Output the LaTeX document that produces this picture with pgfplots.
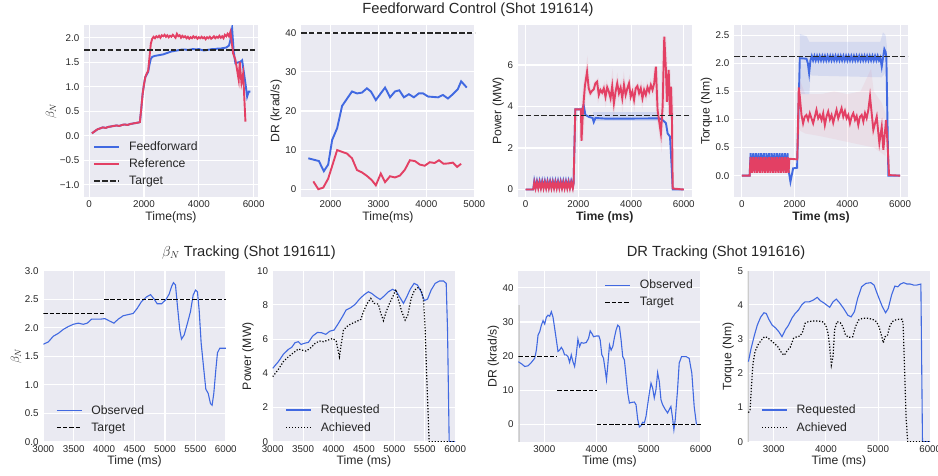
\documentclass[border=0pt]{standalone}
\usepackage{fontspec}
\setmainfont{Liberation Sans}
\usepackage{pgfplots}
\pgfplotsset{compat=1.18}
\definecolor{bgc}{HTML}{EAEAF2}
\definecolor{cblue}{HTML}{4169E1}
\definecolor{cred}{HTML}{E34064}
\definecolor{ctxt}{HTML}{262626}

\pgfplotsset{
  sb/.style={
    scale only axis, anchor=south west,
    axis background/.style={fill=bgc},
    axis line style={draw=none},
    grid=major, grid style={white, line width=1.1pt},
    major tick length=0pt,
    scaled ticks=false,
    ticklabel style={font=\fontsize{9.8}{11}\selectfont, text=ctxt, inner sep=0pt},
    xticklabel style={yshift=-3.5pt},
    yticklabel style={xshift=-4.5pt},
    label style={font=\fontsize{12.2}{14}\selectfont, text=ctxt},
    legend image code/.code={\draw[##1] (0pt,0pt) -- (25pt,0pt);},
    legend style={draw=none, fill=none, font=\fontsize{12.2}{14}\selectfont,
      text=ctxt, row sep=5pt, column sep=8pt, nodes={inner sep=1pt}},
    legend cell align=left,
    unbounded coords=jump,
  },
  top/.style={sb, width=174pt, height=172pt},
  bot/.style={sb, width=182.5pt, height=171pt},
  thk/.style={line width=1.9pt},
  thn/.style={line width=1.1pt},
  tdash/.style={black!85, line width=1.5pt, dash pattern=on 5.5pt off 2.4pt},
  bdash/.style={black, line width=1.2pt, dash pattern=on 4.4pt off 1.9pt},
  bdot/.style={black, line width=1.2pt, dash pattern=on 1.2pt off 1.8pt},
}

\begin{document}
\begin{tikzpicture}
\path[use as bounding box] (0,0) rectangle (938pt,-475pt);

\node[font=\fontsize{14.7}{16}\selectfont, text=ctxt] at (478pt,-10pt) {Feedforward Control (Shot 191614)};
\node[font=\fontsize{14.7}{16}\selectfont, text=ctxt] at (249pt,-253pt) {$\beta_N$ Tracking (Shot 191611)};
\node[font=\fontsize{14.7}{16}\selectfont, text=ctxt] at (716pt,-253pt) {DR Tracking (Shot 191616)};

% ---------- panel 1: beta_N ----------
\begin{axis}[top, at={(84pt,-197pt)},
  xmin=-188, xmax=6158, ymin=-1.25, ymax=2.26,
  xtick={0,2000,4000,6000}, xticklabels={0,2000,4000,6000},
  ytick={-1,-0.5,0,0.5,1,1.5,2}, yticklabels={−1.0,−0.5,0.0,0.5,1.0,1.5,2.0},
  xlabel={Time(ms)}, ylabel={$\beta_N$},
  legend style={at={(0.035,0.045)}, anchor=south west}]
\addplot[cblue, thk] coordinates {
(100,0.05)(200,0.09)(300,0.13)(400,0.15)(500,0.17)(600,0.16)(700,0.18)(800,0.19)
(900,0.2)(1000,0.21)(1100,0.2)(1200,0.22)(1300,0.23)(1400,0.22)(1500,0.24)(1600,0.25)
(1700,0.26)(1800,0.27)(1850,0.28)(1900,0.55)(1950,0.85)(2000,1.05)(2050,1.2)(2100,1.25)
(2150,1.3)(2200,1.45)(2250,1.57)(2300,1.61)(2400,1.63)(2500,1.64)(2600,1.65)(2700,1.66)
(2800,1.68)(2900,1.7)(3000,1.72)(3100,1.73)(3200,1.74)(3300,1.75)(3400,1.76)(3500,1.76)
(3600,1.75)(3700,1.76)(3800,1.77)(3900,1.76)(4000,1.77)(4100,1.75)(4200,1.74)(4300,1.75)
(4400,1.76)(4500,1.77)(4600,1.77)(4700,1.78)(4800,1.78)(4900,1.79)(5000,1.8)(5100,1.84)
(5150,1.95)(5214,2.19)(5272,1.71)(5334,1.48)(5517,1.51)(5579,1.54)(5700,1.07)(5762,0.80)
(5820,0.90)(5882,0.90)};
\addlegendentry{Feedforward}
\addplot[cred, thk] coordinates {
(100,0.05)(200,0.09)(300,0.13)(400,0.15)(500,0.17)(600,0.16)(700,0.18)(800,0.19)
(900,0.2)(1000,0.21)(1100,0.2)(1200,0.22)(1300,0.23)(1400,0.22)(1500,0.24)(1600,0.25)
(1700,0.26)(1800,0.27)(1850,0.28)(1900,0.55)(1950,0.85)(2000,1.05)(2050,1.2)(2100,1.27)
(2150,1.32)(2200,1.6)(2250,1.88)(2300,1.98)(2350,2.02)(2400,1.99)(2450,2.03)(2500,2.01)
(2550,2.04)(2600,2.0)(2650,2.05)(2700,2.03)(2750,2.06)(2800,2.02)(2850,2.05)(2900,2.01)
(2950,2.04)(3000,2.02)(3050,2.06)(3100,2.03)(3150,2.0)(3200,2.08)(3250,2.03)(3300,2.05)
(3350,2.0)(3400,2.04)(3450,2.01)(3500,2.03)(3550,1.99)(3600,2.02)(3650,1.98)(3700,2.01)
(3750,1.99)(3800,2.03)(3850,2.0)(3900,2.02)(3950,1.98)(4000,2.01)(4050,1.99)(4100,2.02)
(4150,1.99)(4200,2.01)(4250,1.97)(4300,2.01)(4350,1.99)(4400,2.02)(4450,1.98)(4500,2.0)
(4550,2.03)(4600,1.99)(4650,2.02)(4700,2.0)(4750,2.04)(4800,2.0)(4850,2.03)(4900,1.99)
(4950,2.06)(5000,2.03)(5050,2.08)(5100,2.03)(5152,2.12)(5250,1.68)(5334,1.55)(5396,1.34)
(5455,1.14)(5492,1.51)(5554,1.08)(5616,1.27)(5700,0.29)};
\addlegendentry{Reference}
\addplot[tdash] coordinates {(-188,1.75)(6158,1.75)};
\addlegendentry{Target}
\end{axis}

% ---------- panel 2: DR ----------
\begin{axis}[top, at={(301pt,-197pt)},
  xmin=1385, xmax=5015, ymin=-2, ymax=42,
  xtick={2000,3000,4000,5000}, xticklabels={2000,3000,4000,5000},
  ytick={0,10,20,30,40}, yticklabels={0,10,20,30,40},
  xlabel={Time(ms)}, ylabel={DR (krad/s)}]
\addplot[cblue, thk] coordinates {
(1538,7.9)(1758,7.2)(1861,4.6)(1952,6.3)(2035,12.6)(2139,15.6)(2242,21.3)(2449,25.0)
(2553,24.5)(2656,24.7)(2760,25.8)(2843,25.0)(2946,22.8)(3139,26.0)(3242,23.5)(3346,25.0)
(3435,25.3)(3532,23.5)(3636,24.3)(3739,23.5)(3843,24.5)(3932,24.5)(4036,23.7)(4243,23.5)
(4346,24.1)(4450,23.2)(4553,24.3)(4657,25.6)(4726,27.6)(4843,26.0)};
\addplot[cred, thk] coordinates {
(1642,2.0)(1746,0)(1849,0.4)(1952,2.7)(2139,10.0)(2346,9.1)(2449,7.9)(2553,4.9)
(2656,4.3)(2760,3.4)(2863,2.3)(2946,1.0)(3050,4.0)(3139,1.8)(3242,3.3)(3346,3.0)
(3450,3.5)(3553,5.0)(3656,7.4)(3760,7.2)(3863,6.3)(3966,6.0)(4070,6.9)(4173,6.7)
(4263,7.4)(4360,6.5)(4463,6.6)(4553,6.8)(4643,5.7)(4726,6.5)};
\addplot[tdash] coordinates {(1385,40)(5015,40)};
\end{axis}

% ---------- panel 3: Power ----------
\begin{axis}[top, at={(517.7pt,-197pt)},
  xmin=-300, xmax=6300, ymin=-0.36, ymax=7.93,
  xtick={0,2000,4000,6000}, xticklabels={0,2000,4000,6000},
  ytick={0,2,4,6}, yticklabels={0,2,4,6},
  xlabel={\bfseries Time (ms)}, ylabel={Power (MW)}]
\addplot[fill=cblue, fill opacity=0.15, draw=none] coordinates {
(2550,3.3)(5050,3.3)(5050,3.75)(2550,3.75)} -- cycle;
\addplot[cblue, thk] coordinates {
(0,0)(290,0)(330,0.42)(380,0.12)(430,0.42)(480,0.12)(530,0.42)(580,0.12)(630,0.42)
(680,0.12)(730,0.42)(780,0.12)(830,0.42)(880,0.12)(930,0.42)(980,0.12)(1030,0.42)
(1080,0.12)(1130,0.42)(1180,0.12)(1230,0.42)(1280,0.12)(1330,0.42)(1380,0.12)(1430,0.42)
(1480,0.12)(1530,0.42)(1580,0.12)(1630,0.42)(1680,0.12)(1730,0.42)(1790,0.12)(1820,0.3)
(1885,3.86)(2140,3.86)(2203,4.07)(2267,3.6)(2400,3.5)(2540,3.45)(2585,3.25)(2650,3.45)
(3000,3.42)(4000,3.42)(5068,3.43)(5197,3.35)(5323,3.2)(5388,2.7)(5477,2.55)(5540,1.09)
(5580,0)(6000,0)};
\addplot[cred, line width=4pt, opacity=0.08] coordinates {
(2120,2.35)(2180,3.9)(2250,5.0)(2331,5.68)(2393,4.88)(2457,4.64)(2521,4.76)(2585,4.83)
(2648,5.12)(2712,5.20)(2776,4.56)(2839,4.80)(2903,4.67)(2967,4.88)(3031,4.47)(3094,4.93)
(3158,4.72)(3222,4.40)(3285,4.99)(3349,4.15)(3413,4.72)(3476,5.12)(3540,4.64)(3604,4.91)
(3667,4.40)(3731,5.04)(3795,4.56)(3859,4.88)(3922,5.12)(3986,4.47)(4050,4.72)(4113,4.32)
(4177,4.88)(4241,4.99)(4304,4.64)(4368,4.88)(4432,4.40)(4495,4.80)(4559,4.56)(4623,4.93)
(4686,4.72)(4750,5.04)(4814,4.80)(4877,5.12)(4941,5.92)(5006,3.83)(5132,2.7)(5197,3.99)
(5260,7.37)(5323,5.76)(5362,4.23)(5427,5.76)(5477,3.59)(5515,4.96)(5553,3.35)};
\addplot[cred, thk] coordinates {
(0,0)(290,0)(330,0.35)(380,0.05)(430,0.35)(480,0.05)(530,0.35)(580,0.05)(630,0.35)
(680,0.05)(730,0.35)(780,0.05)(830,0.35)(880,0.05)(930,0.35)(980,0.05)(1030,0.35)
(1080,0.05)(1130,0.35)(1180,0.05)(1230,0.35)(1280,0.05)(1330,0.35)(1380,0.05)(1430,0.35)
(1480,0.05)(1530,0.35)(1580,0.05)(1630,0.35)(1680,0.05)(1730,0.35)(1790,0.05)(1820,0.3)
(1885,3.86)(2100,3.86)(2120,2.35)(2180,3.9)(2250,5.0)(2331,5.68)(2393,4.88)(2457,4.64)
(2521,4.76)(2585,4.83)(2648,5.12)(2712,5.20)(2776,4.56)(2839,4.80)(2903,4.67)(2967,4.88)
(3031,4.47)(3094,4.93)(3158,4.72)(3222,4.40)(3285,4.99)(3349,4.15)(3413,4.72)(3476,5.12)
(3540,4.64)(3604,4.91)(3667,4.40)(3731,5.04)(3795,4.56)(3859,4.88)(3922,5.12)(3986,4.47)
(4050,4.72)(4113,4.32)(4177,4.88)(4241,4.99)(4304,4.64)(4368,4.88)(4432,4.40)(4495,4.80)
(4559,4.56)(4623,4.93)(4686,4.72)(4750,5.04)(4814,4.80)(4877,5.12)(4941,5.92)(5006,3.83)
(5132,2.7)(5197,3.99)(5260,7.37)(5323,5.76)(5362,4.23)(5427,5.76)(5477,3.59)(5515,4.96)
(5553,3.35)(5580,0.05)(6000,0)};
\addplot[tdash] coordinates {(-300,3.57)(6300,3.57)};
\end{axis}

% ---------- panel 4: Torque ----------
\begin{axis}[top, at={(734pt,-197pt)},
  xmin=-300, xmax=6300, ymin=-0.38, ymax=2.68,
  xtick={0,2000,4000,6000}, xticklabels={0,2000,4000,6000},
  ytick={0,0.5,1,1.5,2,2.5}, yticklabels={0.0,0.5,1.0,1.5,2.0,2.5},
  xlabel={\bfseries Time (ms)}, ylabel={Torque (Nm)}]
\addplot[fill=cblue, fill opacity=0.12, draw=none] coordinates {
(2180,1.6)(2200,2.52)(2450,2.48)(2560,2.38)(5250,2.38)(5350,2.55)(5450,2.5)(5500,2.3)
(5500,1.9)(5400,1.8)(5300,1.75)(2650,1.78)(2600,1.8)(2560,1.45)(2250,1.45)} -- cycle;
\addplot[fill=cred, fill opacity=0.07, draw=none] coordinates {
(2150,1.0)(2200,1.7)(2400,1.45)(3000,1.45)(3500,1.5)(4000,1.45)(4500,1.5)(4900,1.9)
(5000,1.5)(5300,1.3)(5450,1.1)(5450,0.35)(5300,0.4)(5000,0.5)(4500,0.55)(4000,0.6)
(3500,0.65)(3000,0.7)(2400,0.75)(2200,0.8)(2150,0.5)} -- cycle;
\addplot[cblue, thk] coordinates {
(0,0)(293,0)(330,0.40)(380,0.08)(430,0.40)(480,0.08)(530,0.40)(580,0.08)(630,0.40)
(680,0.08)(730,0.40)(780,0.08)(830,0.40)(880,0.08)(930,0.40)(980,0.08)(1030,0.40)
(1080,0.08)(1130,0.40)(1180,0.08)(1230,0.40)(1280,0.08)(1330,0.40)(1380,0.08)(1430,0.40)
(1480,0.08)(1530,0.40)(1580,0.08)(1630,0.40)(1680,0.08)(1730,0.40)(1770,0.10)(1841,-0.11)
(1942,0.13)(2093,0.14)(2196,2.09)(2450,2.08)(2500,2.0)(2550,1.82)(2600,2.05)
(2650,2.13)(2700,2.05)(2750,2.13)(2800,2.05)(2850,2.13)(2900,2.05)(2950,2.13)(3000,2.05)
(3050,2.13)(3100,2.05)(3150,2.13)(3200,2.05)(3250,2.13)(3300,2.05)(3350,2.13)(3400,2.05)
(3450,2.13)(3500,2.05)(3550,2.13)(3600,2.05)(3650,2.13)(3700,2.05)(3750,2.13)(3800,2.05)
(3850,2.13)(3900,2.05)(3950,2.13)(4000,2.05)(4050,2.13)(4100,2.05)(4150,2.13)(4200,2.05)
(4250,2.13)(4300,2.05)(4350,2.13)(4400,2.05)(4450,2.13)(4500,2.05)(4550,2.13)(4600,2.05)
(4650,2.13)(4700,2.05)(4750,2.13)(4800,2.05)(4850,2.13)(4900,2.05)(4950,2.13)(5000,2.05)
(5050,2.13)(5100,2.05)(5150,2.13)(5200,2.05)(5250,2.1)(5304,1.94)(5403,2.25)(5450,2.2)
(5480,2.1)(5556,0)(6000,0)};
\addplot[cred, thk] coordinates {
(0,0)(293,0)(330,0.33)(380,0.05)(430,0.33)(480,0.05)(530,0.33)(580,0.05)(630,0.33)
(680,0.05)(730,0.33)(780,0.05)(830,0.33)(880,0.05)(930,0.33)(980,0.05)(1030,0.33)
(1080,0.05)(1130,0.33)(1180,0.05)(1230,0.33)(1280,0.05)(1330,0.33)(1380,0.05)(1430,0.33)
(1480,0.05)(1530,0.33)(1580,0.05)(1630,0.33)(1680,0.05)(1730,0.33)(1770,0.05)(1800,0.30)
(2100,0.29)(2157,1.57)(2196,1.41)(2260,1.08)(2321,0.93)(2385,1.05)(2448,1.08)(2512,0.99)
(2576,1.11)(2639,1.02)(2702,0.93)(2766,1.05)(2829,1.17)(2893,1.02)(2956,1.08)(3020,0.99)
(3083,1.11)(3146,0.90)(3210,1.05)(3273,1.14)(3337,1.00)(3400,1.08)(3464,0.94)(3527,1.06)
(3590,1.17)(3654,1.02)(3717,1.11)(3781,1.20)(3844,1.05)(3908,1.15)(3971,1.02)(4035,1.08)
(4098,0.93)(4162,1.05)(4225,1.11)(4289,0.99)(4352,1.06)(4415,0.90)(4479,1.05)(4542,1.08)
(4606,0.96)(4669,1.11)(4732,1.02)(4796,1.17)(4859,1.41)(4986,0.81)(5114,1.05)(5213,0.58)
(5304,0.87)(5365,0.46)(5468,0.99)(5517,0.63)(5582,0.01)(6000,0)};
\addplot[tdash] coordinates {(-300,2.12)(6300,2.12)};
\end{axis}

% ---------- panel 5: beta_N tracking ----------
\begin{axis}[bot, at={(43.3pt,-441.7pt)},
  xmin=3000, xmax=6000, ymin=0, ymax=3,
  xtick={3000,3500,4000,4500,5000,5500,6000},
  xticklabels={3000,3500,4000,4500,5000,5500,6000},
  ytick={0,0.5,1,1.5,2,2.5,3}, yticklabels={0.0,0.5,1.0,1.5,2.0,2.5,3.0},
  xlabel={Time (ms)}, ylabel={$\beta_N$},
  legend style={at={(0.053,0.035)}, anchor=south west}]
\addplot[cblue, thn] coordinates {
(3000,1.71)(3082,1.75)(3164,1.85)(3246,1.90)(3328,1.97)(3411,2.02)(3493,2.06)(3575,2.08)
(3657,2.06)(3723,2.08)(3794,2.15)(3876,2.15)(3942,2.15)(4013,2.16)(4084,2.12)(4160,2.08)
(4232,2.15)(4314,2.21)(4396,2.23)(4478,2.25)(4544,2.34)(4615,2.46)(4697,2.54)(4763,2.58)
(4823,2.50)(4872,2.42)(4943,2.42)(5014,2.49)(5069,2.59)(5108,2.72)(5140,2.79)(5173,2.75)
(5206,2.37)(5244,1.96)(5272,1.80)(5315,1.87)(5370,2.08)(5419,2.28)(5463,2.57)(5502,2.66)
(5534,2.63)(5562,2.31)(5595,1.73)(5639,1.26)(5672,0.92)(5710,0.85)(5748,0.67)(5775,0.64)
(5803,0.85)(5836,1.26)(5863,1.56)(5901,1.64)(6000,1.64)};
\addlegendentry{Observed}
\addplot[bdash] coordinates {(3000,2.25)(4000,2.25)(4000,nan)(4000,2.5)(6000,2.5)};
\addlegendentry{Target}
\end{axis}

% ---------- panel 6: power tracking ----------
\begin{axis}[bot, at={(272.7pt,-441.7pt)},
  xmin=3000, xmax=6000, ymin=0, ymax=10,
  xtick={3000,3500,4000,4500,5000,5500,6000},
  xticklabels={3000,3500,4000,4500,5000,5500,6000},
  ytick={0,2,4,6,8,10}, yticklabels={0,2,4,6,8,10},
  xlabel={Time (ms)}, ylabel={Power (MW)},
  legend style={at={(0.053,0.035)}, anchor=south west}]
\addplot[cblue, thn] coordinates {
(3000,4.29)(3093,4.68)(3175,5.11)(3258,5.40)(3313,5.52)(3367,5.79)(3422,5.85)(3466,5.69)
(3516,5.75)(3587,5.81)(3658,6.18)(3735,6.39)(3806,6.37)(3872,6.28)(3943,6.47)(4009,6.53)
(4080,6.92)(4146,7.31)(4206,7.70)(4283,7.84)(4354,8.03)(4437,8.38)(4519,8.64)(4574,8.77)
(4629,8.67)(4695,8.48)(4766,8.32)(4832,8.52)(4903,8.77)(4969,8.91)(5029,8.81)(5084,8.48)
(5150,8.09)(5205,8.48)(5260,8.91)(5325,9.26)(5380,9.16)(5440,8.77)(5495,8.25)(5545,8.34)
(5605,8.87)(5671,9.26)(5742,9.40)(5808,9.40)(5852,9.26)(5874,6.53)(5901,0)(6000,0)};
\addlegendentry{Requested}
\addplot[bdot] coordinates {
(3000,3.80)(3093,4.23)(3175,4.68)(3258,4.97)(3340,5.20)(3422,5.42)(3477,5.36)(3548,5.30)
(3614,5.46)(3697,5.75)(3768,5.89)(3834,5.85)(3916,5.95)(3987,6.04)(4042,5.89)(4097,4.97)
(4124,5.65)(4163,6.53)(4217,6.73)(4283,6.88)(4371,7.02)(4448,7.15)(4492,7.60)(4547,8.05)
(4612,8.38)(4667,8.09)(4738,8.05)(4777,7.50)(4821,7.08)(4865,7.60)(4920,8.09)(4975,8.48)
(5024,8.91)(5068,8.28)(5122,7.60)(5177,7.11)(5221,7.41)(5276,8.38)(5331,8.87)(5386,9.00)
(5440,8.87)(5479,8.28)(5506,6.53)(5534,3.6)(5572,0)(6000,0)};
\addlegendentry{Achieved}
\end{axis}

% ---------- panel 7: DR tracking ----------
\begin{axis}[bot, at={(518.3pt,-441.7pt)},
  xmin=2500, xmax=6000, ymin=-5, ymax=45,
  xtick={3000,4000,5000,6000}, xticklabels={3000,4000,5000,6000},
  ytick={0,10,20,30,40}, yticklabels={0,10,20,30,40},
  xlabel={Time (ms)}, ylabel={DR (krad/s)},
  legend style={at={(0.456,0.965)}, anchor=north west}]
\addplot[black!20, line width=3pt, forget plot] coordinates {(2500,-5)(2500,35)};
\addplot[cblue, thn] coordinates {
(2497,18.4)(2560,17.8)(2624,17.0)(2688,17.2)(2752,18.2)(2815,19.4)(2847,21.8)(2879,26.2)
(2911,27.2)(2943,29.1)(2975,30.4)(3006,29.4)(3038,31.4)(3070,32.0)(3102,31.7)(3134,33.0)
(3166,31.4)(3197,28.2)(3229,24.8)(3261,21.4)(3293,21.8)(3325,22.6)(3357,21.8)(3388,20.4)
(3420,20.4)(3452,19.9)(3484,18.2)(3516,20.4)(3548,18.4)(3580,17.0)(3611,20.4)(3643,25.0)
(3675,22.8)(3707,24.0)(3752,23.8)(3803,24.0)(3847,25.2)(3879,27.4)(3917,26.5)(3943,25.7)
(3994,25.9)(4045,25.9)(4070,24.8)(4102,20.4)(4134,19.4)(4166,16.0)(4191,13.1)(4217,17.5)
(4249,23.3)(4280,21.8)(4312,22.8)(4344,25.5)(4376,27.7)(4408,29.1)(4440,28.6)(4471,24.8)
(4503,19.9)(4535,18.9)(4567,14.1)(4599,9.2)(4631,6.3)(4675,6.5)(4726,6.6)(4758,5.8)
(4790,1.5)(4822,-0.7)(4854,-0.3)(4885,0.7)(4917,0.5)(4949,2.4)(4981,5.8)(5013,9.2)
(5045,12.1)(5076,10.7)(5108,7.8)(5140,10.2)(5172,15.2)(5204,12.6)(5236,7.3)(5268,5.8)
(5319,4.4)(5363,3.4)(5395,4.4)(5427,5.3)(5459,1.9)(5484,-1.5)(5510,1.5)(5554,10.2)
(5586,18.0)(5631,19.9)(5714,19.9)(5777,19.4)(5828,15.0)(5873,5.3)(5917,0)};
\addlegendentry{Observed}
\addplot[bdash] coordinates {
(2500,20)(3250,20)(3250,nan)(3250,10)(4000,10)(4000,nan)(4000,0)(6000,0)};
\addlegendentry{Target}
\end{axis}

% ---------- panel 8: torque tracking ----------
\begin{axis}[bot, at={(747.7pt,-441.7pt)},
  xmin=2500, xmax=6000, ymin=0, ymax=5,
  xtick={3000,4000,5000,6000}, xticklabels={3000,4000,5000,6000},
  ytick={0,1,2,3,4,5}, yticklabels={0,1,2,3,4,5},
  xlabel={Time (ms)}, ylabel={Torque (Nm)},
  legend style={at={(0.058,0.035)}, anchor=south west}]
\addplot[black!20, line width=3pt, forget plot] coordinates {(2500,0)(2500,5)};
\addplot[cblue, thn] coordinates {
(2514,2.34)(2558,2.68)(2621,3.07)(2684,3.41)(2748,3.64)(2811,3.77)(2855,3.75)(2905,3.58)
(2968,3.41)(3032,3.33)(3095,3.22)(3158,3.07)(3221,3.27)(3284,3.41)(3347,3.61)(3410,3.75)
(3473,3.85)(3536,4.00)(3599,4.09)(3681,4.09)(3757,4.14)(3833,4.22)(3896,4.12)(3959,4.06)
(4010,4.00)(4073,3.93)(4136,4.09)(4199,4.17)(4262,4.06)(4338,3.90)(4420,3.70)(4483,3.65)
(4546,3.80)(4609,4.19)(4685,4.53)(4767,4.63)(4861,4.65)(4924,4.58)(4969,4.39)(5019,4.19)
(5082,3.95)(5145,3.77)(5196,3.90)(5259,4.29)(5322,4.55)(5379,4.53)(5429,4.61)(5492,4.65)
(5555,4.61)(5619,4.61)(5682,4.58)(5745,4.58)(5821,4.61)(5852,0)(6000,0)};
\addlegendentry{Requested}
\addplot[bdot] coordinates {
(2514,0.85)(2546,0.93)(2571,1.61)(2602,2.29)(2640,2.63)(2697,2.83)(2760,2.97)(2823,3.07)
(2874,3.05)(2937,2.97)(3000,2.89)(3076,2.78)(3158,2.58)(3202,2.53)(3265,2.68)(3315,2.76)
(3379,3.02)(3442,3.07)(3505,3.09)(3555,3.22)(3599,3.46)(3662,3.51)(3757,3.53)(3852,3.53)
(3934,3.51)(3997,3.41)(4041,3.17)(4073,2.78)(4104,2.24)(4136,2.49)(4167,3.27)(4211,3.51)
(4275,3.48)(4325,3.36)(4376,3.12)(4439,3.05)(4514,3.07)(4565,3.36)(4628,3.56)(4704,3.61)
(4798,3.61)(4893,3.58)(4969,3.51)(5019,3.36)(5063,3.12)(5101,2.89)(5133,3.07)(5177,3.09)
(5221,3.36)(5272,3.51)(5335,3.56)(5398,3.58)(5461,3.58)(5480,3.46)(5505,2.29)(5537,0.73)
(5568,0)(6000,0)};
\addlegendentry{Achieved}
\end{axis}
\end{tikzpicture}
\end{document}
